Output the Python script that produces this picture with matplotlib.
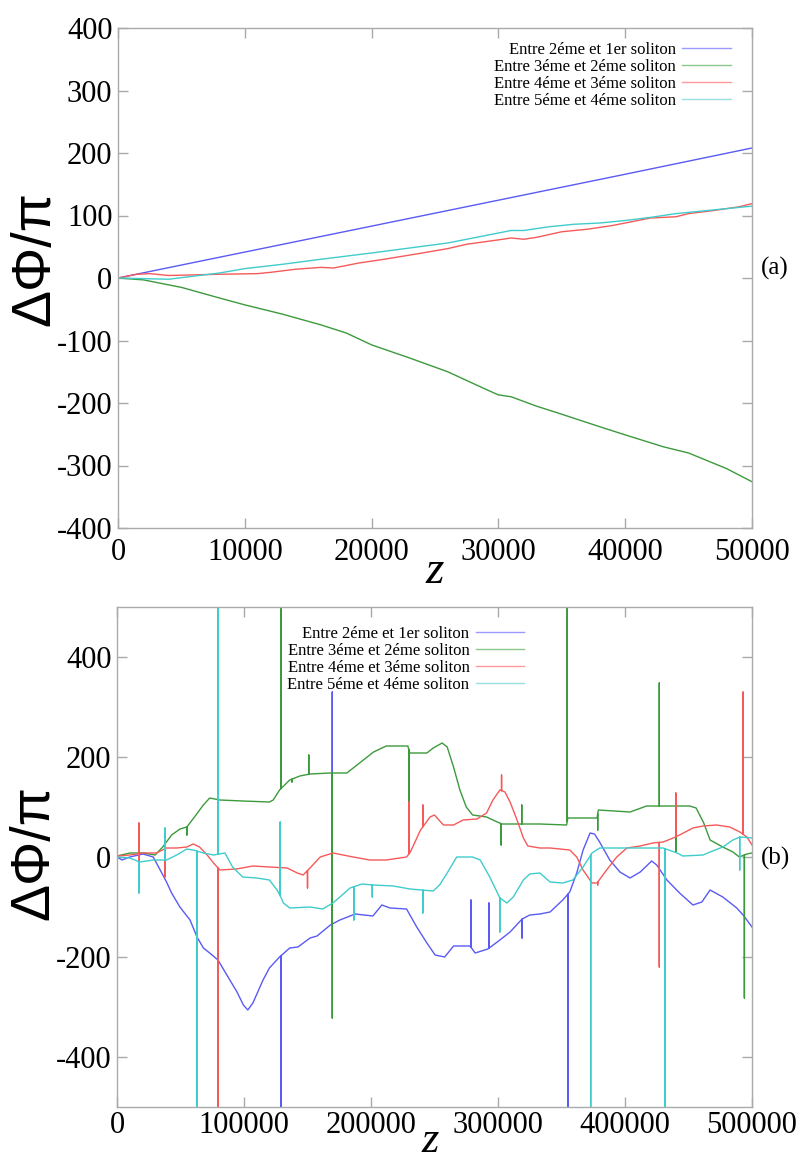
import numpy as np
import matplotlib
matplotlib.use("Agg")
import matplotlib.pyplot as plt
from matplotlib.lines import Line2D

plt.rcParams["axes.unicode_minus"] = False

# ---------------- data : panel (a) ----------------
labels = ["Entre 2éme et 1er soliton", "Entre 3éme et 2éme soliton",
          "Entre 4éme et 3éme soliton", "Entre 5éme et 4éme soliton"]

za_blue = [0, 10000, 20000, 30000, 40000, 50000]
va_blue = [0, 41.5, 83, 124.5, 166, 208]

za_green = [0, 2000, 5000, 8000, 10000, 13000, 16000, 18000, 20000, 23000, 26000,
            29000, 30000, 31000, 33000, 35000, 38000, 40000, 43000, 45000, 48000, 50000]
va_green = [0, -3, -15, -32, -43, -58, -75, -88, -107, -128, -150,
            -178, -187, -190, -205, -218, -238, -251, -270, -280, -305, -326]

za_red = [0, 1500, 2500, 4000, 6000, 8000, 11000, 12000, 14000, 16000, 17000, 19000,
          21000, 24000, 26000, 27500, 30000, 31000, 32000, 33000, 35000, 37000, 39000,
          40000, 41000, 42000, 44000, 45000, 47000, 49000, 50000]
va_red = [0, 6, 7, 4, 5, 6, 7, 9, 14, 17, 16, 24,
          30, 40, 47, 54, 61, 64, 62, 65, 74, 78, 84,
          88, 92, 96, 98, 103, 108, 114, 119]

za_cyan = [0, 2000, 4000, 6000, 8000, 10000, 13000, 16000, 18000, 20000, 23000, 26000,
           28000, 30000, 31000, 32000, 34000, 36000, 38000, 40000, 42000, 44000, 46000,
           48000, 50000]
va_cyan = [0, -1, -2, 3, 8, 15, 22, 30, 35, 40, 48, 56,
           64, 72, 76, 76, 82, 86, 88, 92, 97, 103, 107,
           111, 115]

# ---------------- data : panel (b) ----------------
zb_blue = [0, 4000, 10000, 20500, 28500, 34000, 39000, 43000, 49500, 57500, 63000, 68000,
           73000, 79500, 86500, 94500, 99500, 103000, 107000, 115000, 120000, 128000,
           136000, 142500, 152000, 157500, 168000, 175500, 187500, 201500, 208500, 215000,
           228000, 236000, 244000, 250500, 258000, 265000, 278000, 282000, 292000, 301500,
           309500, 319000, 325000, 333000, 341000, 351000, 356500, 362000, 367000, 372500,
           376000, 380000, 388000, 396000, 404000, 412000, 421000, 425000, 433000, 443000,
           453500, 460500, 467000, 477000, 488000, 493000, 500000]
vb_blue = [0, -6, 0, 6, 0, -26, -50, -72, -100, -126, -160, -182,
           -192, -206, -236, -270, -296, -306, -292, -246, -222, -200,
           -182, -180, -162, -158, -136, -126, -114, -118, -96, -102,
           -104, -140, -172, -196, -200, -178, -178, -192, -184, -166,
           -150, -124, -116, -114, -110, -86, -70, -32, 14, 48,
           46, 30, -6, -30, -42, -30, -8, -16, -46, -72,
           -96, -90, -66, -80, -102, -116, -140]
spk_blue_z = [129000, 169500, 278700, 292800, 318900, 355000]
spk_blue_v = [-600, 330, -86, -92, -162, -600]

zb_green = [0, 10200, 20500, 30000, 36000, 43000, 49600, 55000, 61000, 68000,
            73000, 81000, 99000, 120000, 123000, 128000, 136000, 144000, 152000, 168000,
            181000, 191000, 202000, 212000, 229000, 230500, 244000, 249000, 256000, 260000,
            265000, 270000, 275000, 280000, 291000, 296000, 303000, 333000, 354000, 355000,
            378000, 379000, 404000, 417000, 451000, 456000, 462000, 467000, 477000, 485000,
            490000, 496000, 500000]
vb_green = [2, 8, 8, 4, 20, 44, 56, 60, 80, 104,
            118, 114, 112, 110, 114, 134, 154, 162, 166, 168,
            168, 188, 210, 222, 222, 208, 208, 218, 228, 220,
            180, 134, 100, 84, 80, 74, 66, 66, 64, 78,
            78, 94, 90, 102, 102, 98, 68, 34, 20, 10,
            0, 6, 8]
spk_green_z = [55000, 129000, 137800, 151000, 169500, 229800, 302500, 318700,
               354500, 378500, 427000, 440000, 494000]
spk_green_v = [44, 600, 150, 204, -322, 110, 24, 104, 600, 54, 348, 10, -282]

zb_red = [0, 10000, 20500, 31000, 39000, 47000, 55000, 60000, 65000, 71000,
          76000, 81000, 94000, 107000, 120000, 134000, 142000, 146500, 152000, 160000,
          170000, 186000, 199000, 212000, 228000, 231000, 239000, 246500, 250000, 257000,
          265000, 272500, 283500, 291000, 296000, 301500, 305500, 309500, 315000, 320000,
          323500, 333000, 341000, 356500, 362000, 367000, 374000, 378000, 385500, 393500,
          401500, 412000, 422000, 430000, 438000, 443000, 453500, 461500, 472000, 482500,
          490500, 496000, 500000]
vb_red = [2, 4, 8, 8, 18, 18, 20, 26, 20, 4,
          -12, -26, -24, -18, -20, -22, -32, -36, -22, 0,
          8, 0, -6, -6, 0, 10, 54, 80, 84, 64,
          64, 74, 76, 88, 114, 134, 130, 110, 74, 38,
          22, 18, 18, 14, 0, -26, -52, -52, -26, 0,
          18, 22, 28, 30, 38, 44, 58, 62, 64, 60,
          50, 40, 24]
spk_red_z = [17300, 17500, 37800, 79500, 150000, 229900, 240800, 302800,
             378500, 427000, 440000, 493000]
spk_red_v = [68, -40, -40, -600, -62, 110, 104, 164,
             -56, -220, 128, 330]

zb_cyan = [0, 10000, 18000, 28500, 39000, 47000, 55000, 60000, 68000, 76000,
           85000, 91000, 99000, 110000, 120000, 126000, 129000, 131000, 136000, 152000,
           162000, 170000, 175500, 183500, 193000, 201500, 217500, 230700, 249000, 254000,
           260000, 267500, 280000, 286000, 293500, 301500, 307000, 312000, 320000, 325000,
           333000, 341000, 351000, 359000, 367000, 374000, 380000, 404000, 430000, 441000,
           445500, 461500, 467000, 477000, 485000, 490500, 500000]
vb_cyan = [0, -2, -10, -6, -6, 4, 16, 14, 8, 4,
           8, -20, -40, -42, -46, -66, -80, -92, -102, -100,
           -104, -92, -80, -62, -54, -56, -58, -64, -68, -56,
           -32, 0, 0, -6, -40, -82, -92, -80, -46, -34,
           -32, -50, -52, -46, -20, 8, 18, 18, 18, 8,
           2, 4, 10, 20, 34, 40, 38]
spk_cyan_z = [17300, 37800, 63000, 79500, 128500, 186500, 201000, 240800,
              301400, 373000, 431500, 490300]
spk_cyan_v = [-72, 58, -600, 600, 70, -126, -80, -112,
              -150, -600, -600, -26]

colors = ["#5a5af5", "#3c9a3c", "#f55a5a", "#40cccc"]
legend_colors = ["#9a9aff", "#8cc88c", "#ff9a9a", "#9ae0e0"]


def with_spikes(z, v, sz, sv):
    pts = [(zz, 0, vv) for zz, vv in zip(z, v)]
    for s, val in zip(sz, sv):
        base = float(np.interp(s, z, v))
        pts += [(s, 1, base), (s, 2, val), (s, 3, base)]
    pts.sort(key=lambda p: (p[0], p[1]))
    return [p[0] for p in pts], [p[2] for p in pts]


W, H = 809, 1164
fig = plt.figure(figsize=(W / 100, H / 100), dpi=100)

ax1 = fig.add_axes([118 / W, 1 - 528 / H, (752 - 118) / W, 500 / H])
ax2 = fig.add_axes([117 / W, 1 - 1107 / H, (752 - 117) / W, 500 / H])

serif = "Liberation Serif"
frame_col = "#aaaaaa"

# panel (a)
ax1.plot(za_blue, va_blue, color=colors[0], lw=1.0)
ax1.plot(za_green, va_green, color=colors[1], lw=1.0)
ax1.plot(za_red, va_red, color=colors[2], lw=1.0)
ax1.plot(za_cyan, va_cyan, color=colors[3], lw=1.0)
ax1.set_xlim(0, 50000)
ax1.set_ylim(-400, 400)
ax1.set_xticks(np.arange(0, 50001, 10000))
ax1.set_yticks(np.arange(-400, 401, 100))

# panel (b)
series_b = [(zb_blue, vb_blue, spk_blue_z, spk_blue_v),
            (zb_green, vb_green, spk_green_z, spk_green_v),
            (zb_red, vb_red, spk_red_z, spk_red_v),
            (zb_cyan, vb_cyan, spk_cyan_z, spk_cyan_v)]
for (z, v, sz, sv), c in zip(series_b, colors):
    zz, vv = with_spikes(z, v, sz, sv)
    ax2.plot(zz, vv, color=c, lw=1.0)
ax2.set_xlim(0, 500000)
ax2.set_ylim(-500, 500)
ax2.set_xticks(np.arange(0, 500001, 100000))
ax2.set_yticks(np.arange(-400, 401, 200))

for ax, pad in ((ax1, 7), (ax2, 3)):
    for sp in ax.spines.values():
        sp.set_color(frame_col)
        sp.set_linewidth(1.0)
    ax.tick_params(direction="in", length=7, width=1, color=frame_col,
                   top=True, right=True, labelsize=22, labelfontfamily=serif,
                   pad=pad)
    ax.tick_params(axis="y", pad=4)
    ax.set_ylabel("ΔΦ/π", fontsize=40, family="Liberation Sans")

ax1.yaxis.set_label_coords(-0.09, 0.54)
ax2.yaxis.set_label_coords(-0.089, 0.51)

# x-axis titles
fig.text(435 / W, 1 - 572 / H, "z", ha="center", va="center",
         fontsize=34, family=serif, style="italic")
fig.text(430 / W, 3 / H, "z", ha="center", va="bottom",
         fontsize=32, family=serif, style="italic")

# legends
for ax, anchor in ((ax1, (0.985, 0.995)), (ax2, (0.66, 0.985))):
    handles = [Line2D([], [], color=c, lw=1.0) for c in legend_colors]
    ax.legend(handles, labels, loc="upper right", bbox_to_anchor=anchor,
              frameon=False, markerfirst=False, handlelength=2.9,
              handletextpad=0.4, labelspacing=0.05,
              prop={"family": serif, "size": 12}, borderaxespad=0.3)

fig.text(775 / W, 1 - 268 / H, "(a)", ha="center", va="center",
         fontsize=18, family=serif)
fig.text(775 / W, 1 - 858 / H, "(b)", ha="center", va="center",
         fontsize=18, family=serif)

fig.savefig("out.png", dpi=100)
